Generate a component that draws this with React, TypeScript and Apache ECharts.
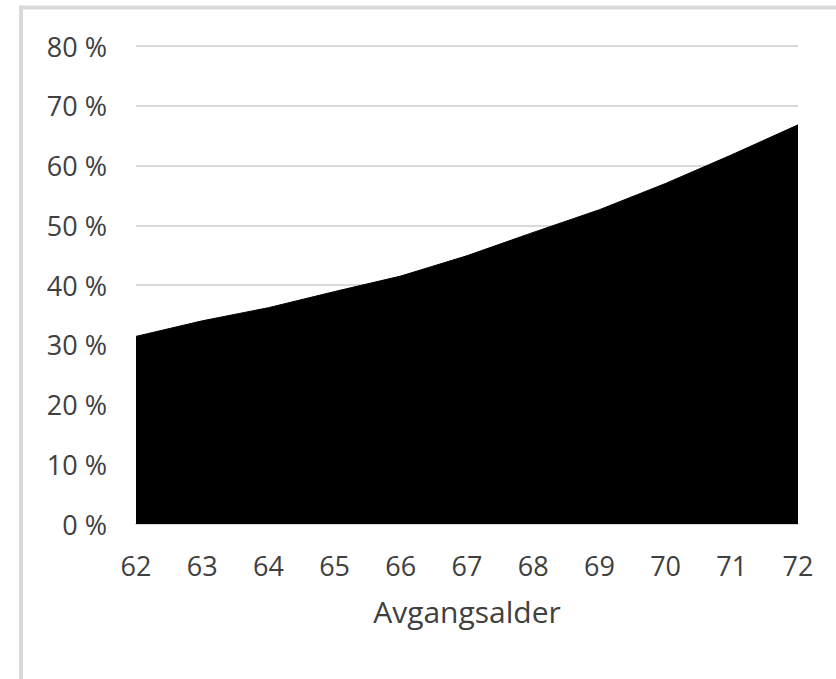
import React, { useEffect, useRef } from "react";
import * as echarts from "echarts";

const ages = ["62", "63", "64", "65", "66", "67", "68", "69", "70", "71", "72"];
const shares = [31.4, 34.0, 36.2, 38.9, 41.5, 44.9, 48.8, 52.6, 57.0, 61.8, 66.8];
const xAxisTitle = "Avgangsalder";

export default function App() {
  const ref = useRef<HTMLDivElement>(null);
  useEffect(() => {
    if (!ref.current) return;
    const chart = echarts.init(ref.current, undefined, { renderer: "svg" });
    const textColor = "#404040";
    const font = "'Open Sans', sans-serif";
    chart.setOption({
      animation: false,
      backgroundColor: "#ffffff",
      grid: { left: 136, right: 38, top: 46, bottom: 155, containLabel: false },
      graphic: [
        {
          type: "rect",
          shape: { x: 21, y: 7.5, width: 900, height: 800 },
          style: { fill: "none", stroke: "#d9d9d9", lineWidth: 4 },
          silent: true,
        },
      ],
      xAxis: {
        type: "category",
        data: ages,
        boundaryGap: false,
        name: xAxisTitle,
        nameLocation: "middle",
        nameGap: 72,
        nameTextStyle: { color: textColor, fontSize: 30, fontFamily: font, verticalAlign: "top" },
        axisLine: { lineStyle: { color: "#d9d9d9", width: 2 } },
        axisTick: { show: false },
        axisLabel: { color: textColor, fontSize: 27, fontFamily: font, margin: 28 },
        splitLine: { show: false },
      },
      yAxis: {
        type: "value",
        min: 0,
        max: 80,
        interval: 10,
        axisLine: { show: false },
        axisTick: { show: false },
        axisLabel: {
          color: textColor,
          fontSize: 27,
          fontFamily: font,
          margin: 29,
          formatter: (v: number) => `${v} %`,
        },
        splitLine: { lineStyle: { color: "#d9d9d9", width: 2 } },
      },
      series: [
        {
          type: "line",
          data: shares,
          showSymbol: false,
          lineStyle: { color: "#000000", width: 1 },
          areaStyle: { color: "#000000", opacity: 1 },
          itemStyle: { color: "#000000" },
        },
      ],
    });
    return () => chart.dispose();
  }, []);
  return (
    <div
      ref={ref}
      style={{ position: "absolute", left: 0, top: 0, width: 836, height: 679 }}
    />
  );
}
